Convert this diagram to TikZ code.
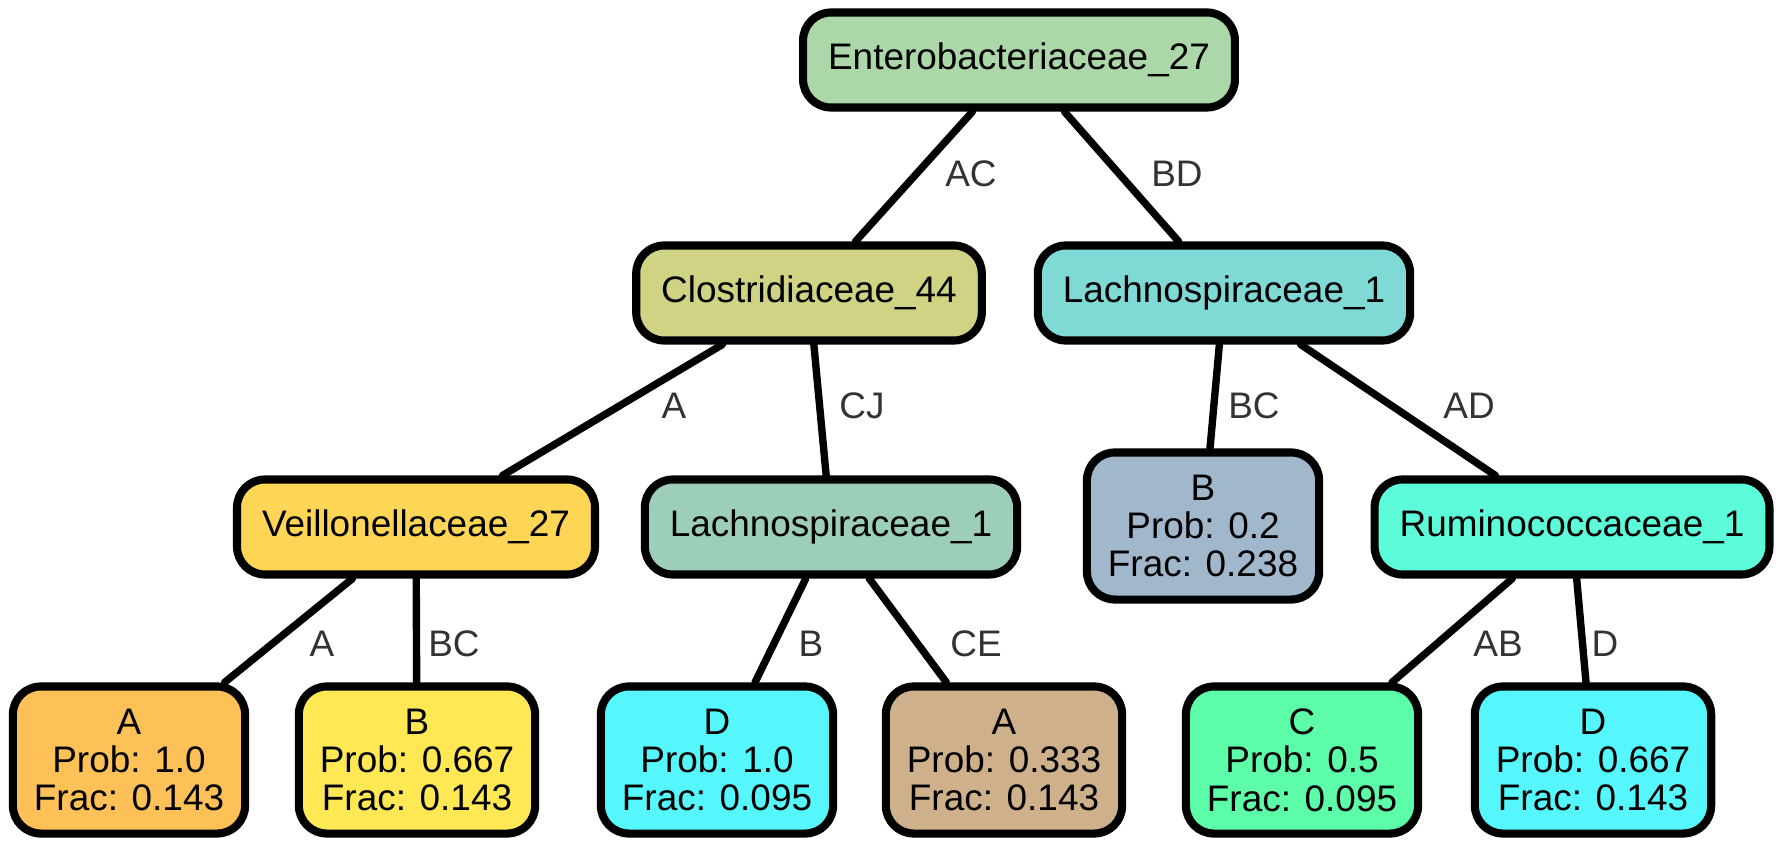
\documentclass[tikz,border=0pt]{standalone}
\usepackage{fontspec}
\setmainfont{Liberation Sans}
\usepackage{xcolor}
\definecolor{cEnt}{HTML}{ACD7A8}
\definecolor{cClo}{HTML}{D0D284}
\definecolor{cLachR}{HTML}{7FDAD6}
\definecolor{cVei}{HTML}{FFD555}
\definecolor{cLachM}{HTML}{9DCFB8}
\definecolor{cBgrey}{HTML}{A1B7CB}
\definecolor{cRum}{HTML}{5CFBD9}
\definecolor{cLeafA}{HTML}{FDC157}
\definecolor{cLeafB}{HTML}{FFE853}
\definecolor{cLeafD}{HTML}{55F7FC}
\definecolor{cLeafAb}{HTML}{CEB08B}
\definecolor{cLeafC}{HTML}{5CFCA8}
\definecolor{cLab}{HTML}{333333}

\begin{document}
\begin{tikzpicture}[
		x=0.01cm, y=-0.01cm,
		line cap=round, line join=round,
		box/.style={draw, line width=2.3pt, rounded corners=0.28cm,
				inner xsep=0.25cm, minimum height=0.95cm,
				font=\fontsize{10.5}{10.9}\selectfont, align=center},
		leaf/.style={box, inner xsep=0.21cm, minimum height=1.47cm},
		edge/.style={line width=2.1pt},
		elab/.style={text=cLab, font=\fontsize{10.5}{12}\selectfont}]

	\useasboundingbox (0,0) rectangle (1785,846);

	% ---- nodi interni ----
	\node[box, fill=cEnt]   (ent)   at (1019,60)  {Enterobacteriaceae\_27};
	\node[box, fill=cClo]   (clo)   at (809,293)  {Clostridiaceae\_44};
	\node[box, fill=cLachR] (lachR) at (1224,293) {Lachnospiraceae\_1};
	\node[box, fill=cVei]   (vei)   at (416,527)  {Veillonellaceae\_27};
	\node[box, fill=cLachM] (lachM) at (831,527)  {Lachnospiraceae\_1};
	\node[box, fill=cRum]   (rum)   at (1572,527) {Ruminococcaceae\_1};

	% ---- foglie ----
	\node[leaf, fill=cBgrey]   (bTwo)  at (1203,526) {B\\Prob: 0.2\\Frac: 0.238};
	\node[leaf, fill=cLeafA]   (aOne)  at (129,760)  {A\\Prob: 1.0\\Frac: 0.143};
	\node[leaf, fill=cLeafB]   (bOne)  at (417,760)  {B\\Prob: 0.667\\Frac: 0.143};
	\node[leaf, fill=cLeafD]   (dOne)  at (717,760)  {D\\Prob: 1.0\\Frac: 0.095};
	\node[leaf, fill=cLeafAb]  (aTwo)  at (1004,760) {A\\Prob: 0.333\\Frac: 0.143};
	\node[leaf, fill=cLeafC]   (cOne)  at (1302,760) {C\\Prob: 0.5\\Frac: 0.095};
	\node[leaf, fill=cLeafD]   (dTwo)  at (1593,760) {D\\Prob: 0.667\\Frac: 0.143};

	% ---- archi ----
	\draw[edge] (ent) -- (clo);
	\draw[edge] (ent) -- (lachR);
	\draw[edge] (clo) -- (vei);
	\draw[edge] (clo) -- (lachM);
	\draw[edge] (lachR) -- (bTwo);
	\draw[edge] (lachR) -- (rum);
	\draw[edge] (vei) -- (aOne);
	\draw[edge] (vei) -- (bOne);
	\draw[edge] (lachM) -- (dOne);
	\draw[edge] (lachM) -- (aTwo);
	\draw[edge] (rum) -- (cOne);
	\draw[edge] (rum) -- (dTwo);

	% ---- etichette degli archi ----
	\node[elab] (lAC)  at (971,174)  {AC};
	\node[elab] (lBD)  at (1177,174) {BD};
	\node[elab] (lA)   at (674,406)  {A};
	\node[elab] (lCJ)  at (862,406)  {CJ};
	\node[elab] (lBC)  at (1254,406) {BC};
	\node[elab] (lAD)  at (1469,406) {AD};
	\node[elab] (lAa)  at (322,644)  {A};
	\node[elab] (lBCb) at (454,644)  {BC};
	\node[elab] (lB)   at (811,644)  {B};
	\node[elab] (lCE)  at (976,644)  {CE};
	\node[elab] (lAB)  at (1498,644) {AB};
	\node[elab] (lD)   at (1605,644) {D};

\end{tikzpicture}
\end{document}
